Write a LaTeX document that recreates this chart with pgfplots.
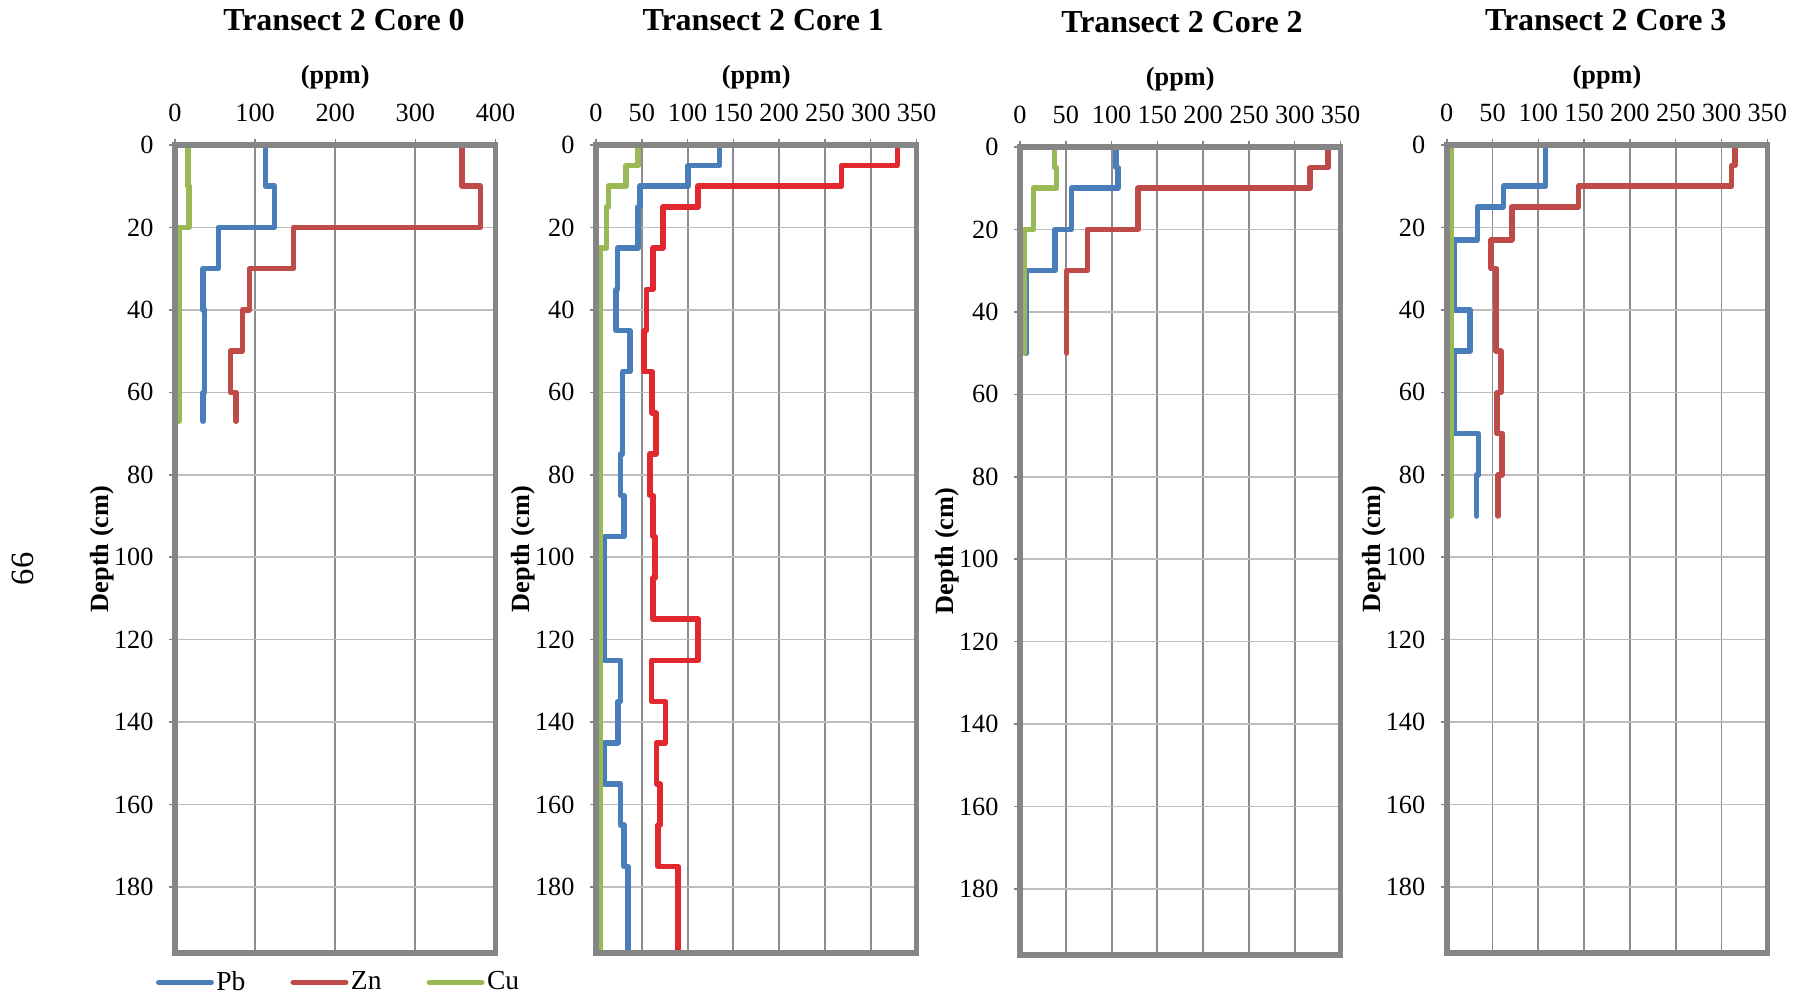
\documentclass[border=0pt]{standalone}
\usepackage{fontspec}
\setmainfont{Liberation Serif}
\usepackage{pgfplots}
\pgfplotsset{compat=1.18}
\definecolor{pbblue}{HTML}{4A7EBB}
\definecolor{znred}{HTML}{BE4B48}
\definecolor{znbright}{HTML}{E2282F}
\definecolor{cugreen}{HTML}{98B954}
\definecolor{framegray}{HTML}{858585}
\definecolor{vgrid}{HTML}{8C8C8C}
\definecolor{hgrid}{HTML}{BDBDBD}
\pgfplotsset{
 core/.style={
  scale only axis, width=128.2pt, height=323.2pt,
  y dir=reverse, ymin=0, ymax=196, ytick={0,20,...,180},
  xmin=0,
  axis line style={draw=none},
  tick align=outside, major tick length=2.5pt,
  tick style={framegray, line width=0.6pt},
  xtick pos=right, xticklabel pos=right, ytick pos=left,
  grid=major,
  x grid style={vgrid, line width=0.75pt},
  y grid style={hgrid, line width=0.6pt},
  tick label style={font=\fontsize{10.5}{12}\selectfont},
  /pgf/number format/assume math mode=true,
  xticklabel style={anchor=base, yshift=6.8pt},
  yticklabel style={xshift=-2.6pt},
  xlabel={(ppm)},
  xlabel style={at={(axis description cs:0.5,1.0767)}, anchor=base, font=\fontsize{10.5}{12}\selectfont\bfseries},
  ylabel={Depth (cm)},
  ylabel style={at={(axis description cs:-0.227,0.5)}, anchor=center, font=\fontsize{10.5}{12}\selectfont\bfseries},
  title style={at={(axis description cs:0.5,1.123)}, anchor=base, font=\fontsize{12.8}{15}\selectfont\bfseries},
  clip mode=individual,
  every axis plot/.append style={line width=2.2pt, line cap=round, line join=round, mark=none},
 }
}
\begin{document}
\begin{tikzpicture}
\useasboundingbox (0,0) rectangle (721.6pt,398pt);
\node[rotate=90, font=\fontsize{13}{15}\selectfont] at (9.2pt,170.4pt) {66};

% Core 0
\begin{axis}[core, at={(70pt,16.8pt)}, anchor=south west, title={Transect 2 Core 0},
  title style={xshift=3.5pt},
  xmax=400, xtick={0,100,...,400},
  legend columns=3,
  legend image code/.code={\draw[#1] (0pt,0pt) -- (21pt,0pt);},
  legend style={at={(axis description cs:-0.061,-0.0365)}, anchor=west, draw=none, fill=none, inner sep=0pt,
    font=\fontsize{11}{13}\selectfont, nodes={inner sep=1pt},
    /tikz/every even column/.append style={column sep=17pt}}]
\addplot[pbblue] coordinates {(113,0)(113,10)(124,10)(124,20)(54,20)(54,30)(35,30)(35,40)(37,40)(37,60)(35,60)(35,67)};
\addlegendentry{Pb}
\addplot[znred] coordinates {(358,0)(358,10)(381,10)(381,20)(148,20)(148,30)(93,30)(93,40)(84,40)(84,50)(69,50)(69,60)(76,60)(76,67)};
\addlegendentry{Zn}
\addplot[cugreen] coordinates {(16,0)(16,10)(17.5,10)(17.5,20)(5,20)(5,67)};
\addlegendentry{Cu}
\draw[framegray, line width=2.2pt] (rel axis cs:0,0) rectangle (rel axis cs:1,1);
\end{axis}

% Core 1
\begin{axis}[core, at={(238.4pt,16.8pt)}, anchor=south west, title={Transect 2 Core 1},
  title style={xshift=2.8pt},
  xmax=350, xtick={0,50,...,350}]
\addplot[pbblue] coordinates {(135,0)(135,5)(100.5,5)(100.5,10)(48,10)(48,15)(46,15)(46,25)(23.5,25)(23.5,35)(22,35)(22,45)(37,45)(37,55)(29,55)(29,75)(27,75)(27,85)(30.5,85)(30.5,95)(9,95)(9,125)(27,125)(27,135)(24,135)(24,145)(9,145)(9,155)(27,155)(27,165)(30.5,165)(30.5,175)(35,175)(35,196)};
\addplot[znbright] coordinates {(329,0)(329,5)(268,5)(268,10)(111.5,10)(111.5,15)(73,15)(73,25)(62.5,25)(62.5,35)(55,35)(55,45)(52.5,45)(52.5,55)(61.4,55)(61.4,65)(65.4,65)(65.4,75)(58.8,75)(58.8,85)(62.5,85)(62.5,95)(64.3,95)(64.3,105)(62.5,105)(62.5,115)(111.5,115)(111.5,125)(60.6,125)(60.6,135)(75.9,135)(75.9,145)(66.1,145)(66.1,155)(69.7,155)(69.7,165)(67.9,165)(67.9,175)(89.7,175)(89.7,196)};
\addplot[cugreen] coordinates {(46,0)(46,5)(32.7,5)(32.7,10)(13.4,10)(13.4,15)(11.6,15)(11.6,25)(4.4,25)(4.4,196)};
\draw[framegray, line width=2.2pt] (rel axis cs:0,0) rectangle (rel axis cs:1,1);
\end{axis}

% Core 2
\begin{axis}[core, at={(408pt,16pt)}, anchor=south west, title={Transect 2 Core 2},
  title style={xshift=0.7pt},
  xmax=350, xtick={0,50,...,350}]
\addplot[pbblue] coordinates {(105,0)(105,5)(107,5)(107,10)(56.4,10)(56.4,20)(38,20)(38,30)(7.3,30)(7.3,50)};
\addplot[znred] coordinates {(336.6,0)(336.6,5)(316.6,5)(316.6,10)(129,10)(129,20)(73.5,20)(73.5,30)(51,30)(51,50)};
\addplot[cugreen] coordinates {(37.5,0)(37.5,5)(40,5)(40,10)(14.6,10)(14.6,20)(4.7,20)(4.7,50)};
\draw[framegray, line width=2.2pt] (rel axis cs:0,0) rectangle (rel axis cs:1,1);
\end{axis}

% Core 3
\begin{axis}[core, at={(578.7pt,16.8pt)}, anchor=south west, title={Transect 2 Core 3},
  title style={xshift=-0.5pt},
  xmax=350, xtick={0,50,...,350}]
\addplot[pbblue] coordinates {(108,0)(108,10)(62,10)(62,15)(33.5,15)(33.5,23)(8.4,23)(8.4,40)(25.5,40)(25.5,50)(8.4,50)(8.4,70)(34.5,70)(34.5,80)(32.7,80)(32.7,90)};
\addplot[znred] coordinates {(314.5,0)(314.5,5)(311,5)(311,10)(143.6,10)(143.6,15)(71,15)(71,23)(48.4,23)(48.4,30)(54,30)(54,50)(59,50)(59,60)(55,60)(55,70)(60.5,70)(60.5,80)(56,80)(56,90)};
\addplot[cugreen] coordinates {(4.7,0)(4.7,90)};
\draw[framegray, line width=2.2pt] (rel axis cs:0,0) rectangle (rel axis cs:1,1);
\end{axis}
\end{tikzpicture}
\end{document}
